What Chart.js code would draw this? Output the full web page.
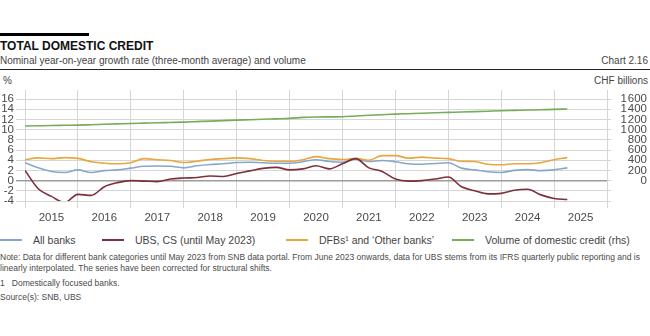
<!DOCTYPE html>
<html>
<head>
<meta charset="utf-8">
<script src="https://cdn.jsdelivr.net/npm/chart.js@4"></script>
<style>
  body { margin: 0; background: #fff; font-family: "Liberation Sans", Arial, sans-serif; color: #444; }
  #page { position: relative; width: 650px; height: 336px; overflow: hidden; background: #fff; }
  .abs { position: absolute; white-space: nowrap; }
  #title { left: 0; top: 39px; font-size: 12px; line-height: 14px; font-weight: bold; color: #111; }
  #subtitle { left: 0; top: 55px; font-size: 10px; line-height: 12px; }
  #chartno { right: 2px; top: 55px; font-size: 10px; line-height: 12px; }
  #rule { left: 0; top: 69px; width: 650px; height: 1px; background: #222; }
  #unitL { left: 3px; top: 75px; font-size: 10px; line-height: 12px; }
  #unitR { right: 2px; top: 75px; font-size: 10px; line-height: 12px; }
  #wrap { position: absolute; left: 0; top: 80px; width: 650px; height: 146px; }
  #legend { left: 0; top: 233px; width: 650px; height: 14px; font-size: 10.5px; line-height: 14px; }
  .item { position: absolute; top: 0; }
  .sw { position: absolute; top: 6px; width: 22px; height: 2px; }
  .lt { position: absolute; left: 33px; top: 0; white-space: nowrap; }
  .note { left: 0; font-size: 8.5px; line-height: 10px; color: #4a4a4a; }
</style>
</head>
<body>
<div id="page">
  <svg style="position:absolute;left:0;top:32px;z-index:5" width="90" height="5"><rect x="0" y="1" width="89" height="3" fill="#000"></rect></svg>
  <div class="abs" id="title">TOTAL DOMESTIC CREDIT</div>
  <div class="abs" id="subtitle">Nominal year-on-year growth rate (three-month average) and volume</div>
  <div class="abs" id="chartno">Chart 2.16</div>
  <div class="abs" id="rule"></div>
  <div class="abs" id="unitL">%</div>
  <div class="abs" id="unitR">CHF billions</div>
  <div id="wrap"><canvas id="chart" width="650" height="146"></canvas></div>
  <div class="abs" id="legend"></div>
  <div class="abs note" style="top:252px">Note: Data for different bank categories until May 2023 from SNB data portal. From June 2023 onwards, data for UBS stems from its IFRS quarterly public reporting and is</div>
  <div class="abs note" style="top:263px">linearly interpolated. The series have been corrected for structural shifts.</div>
  <div class="abs note" style="top:278px">1&nbsp;&nbsp;&nbsp;Domestically focused banks.</div>
  <div class="abs note" style="top:292px">Source(s): SNB, UBS</div>
</div>
<script>
// quarterly observations, Q1 2015 .. Q2 2025 (decimal years)
const quarters = Array.from({ length: 42 }, (_, i) => 2015 + i * 0.25);

const seriesNames = ["All banks", "UBS, CS (until May 2023)", "DFBs\u00b9 and \u2018Other banks\u2019", "Volume of domestic credit (rhs)"];
const seriesColors = ["#86a7cb", "#7d2f3b", "#e9a63e", "#76ad5a"];

// % growth, y-o-y
const allBanks = [
  3.5, 2.5, 1.8, 1.6,
  2.1, 1.6, 1.95, 2.1,
  2.45, 2.8, 2.85, 2.8,
  2.5, 2.9, 3.15, 3.3,
  3.55, 3.6, 3.5, 3.4,
  3.4, 3.7, 4.1, 3.75,
  3.6, 4.2, 3.75, 3.95,
  3.7, 3.3, 3.2, 3.35,
  3.5, 2.45, 2.1, 1.75,
  1.6, 2.0, 2.15, 1.95,
  2.1, 2.5
];
const ubsCs = [
  2.0, -1.6, -3.1, -4.3,
  -2.7, -2.9, -1.2, -0.4,
  0.0, -0.1, -0.2, 0.3,
  0.5, 0.6, 0.9, 0.8,
  1.4, 1.9, 2.4, 2.6,
  2.1, 2.3, 2.9, 2.3,
  3.3, 4.3, 2.5, 1.8,
  0.3, -0.1, 0.0, 0.3,
  0.7, -1.2, -2.0, -2.6,
  -2.5, -1.9, -1.7, -2.8,
  -3.5, -3.7
];
const dfbsOther = [
  4.1, 4.45, 4.3, 4.5,
  4.35, 3.7, 3.4, 3.3,
  3.5, 4.3, 4.1, 3.95,
  3.55, 3.8, 4.15, 4.3,
  4.45, 4.3, 3.95, 3.8,
  3.8, 4.1, 4.7, 4.3,
  4.15, 4.35, 4.0, 4.9,
  4.9, 4.4, 4.6, 4.4,
  4.3, 3.8, 3.75, 3.2,
  3.1, 3.3, 3.3, 3.5,
  4.1, 4.5
];
// CHF billions (rhs)
const volume = [
  1070, 1075, 1080, 1084,
  1088, 1096, 1104, 1112,
  1120, 1127, 1134, 1140,
  1147, 1157, 1167, 1176,
  1186, 1194, 1203, 1211,
  1220, 1240, 1248, 1250,
  1253, 1268, 1280, 1292,
  1304, 1312, 1320, 1329,
  1337, 1345, 1353, 1361,
  1369, 1376, 1383, 1390,
  1396, 1405
];

const leftTicks = [-4, -2, 0, 2, 4, 6, 8, 10, 12, 14, 16];
const years = [2015, 2016, 2017, 2018, 2019, 2020, 2021, 2022, 2023, 2024, 2025];

const legendLeft = [0, 102, 286, 452];

// html legend
const legendEl = document.getElementById("legend");
seriesNames.forEach((name, i) => {
  const item = document.createElement("div");
  item.className = "item";
  item.style.left = legendLeft[i] + "px";
  item.innerHTML = '<div class="sw" style="background:' + seriesColors[i] + '"></div><div class="lt">' + name + "</div>";
  legendEl.appendChild(item);
});

function pts(values) {
  return values.map((v, i) => ({ x: quarters[i], y: v }));
}

const tickFont = { family: "'Liberation Sans', Arial, sans-serif", size: 11.5 };
const tickColor = "#4a4a4a";
const gridColor = "#d6d6d6";

const ctx = document.getElementById("chart").getContext("2d");
new Chart(ctx, {
  type: "line",
  data: {
    datasets: [
      { label: seriesNames[3], data: pts(volume), yAxisID: "y1", borderColor: seriesColors[3], order: 4 },
      { label: seriesNames[0], data: pts(allBanks), yAxisID: "y", borderColor: seriesColors[0], order: 3 },
      { label: seriesNames[2], data: pts(dfbsOther), yAxisID: "y", borderColor: seriesColors[2], order: 2 },
      { label: seriesNames[1], data: pts(ubsCs), yAxisID: "y", borderColor: seriesColors[1], order: 1 },
    ],
  },
  options: {
    responsive: false,
    animation: false,
    layout: { padding: { top: 10, right: 3, bottom: 1, left: 0 } },
    elements: {
      point: { radius: 0 },
      line: { borderWidth: 1.6, cubicInterpolationMode: "monotone" },
    },
    plugins: { legend: { display: false }, tooltip: { enabled: false } },
    scales: {
      x: {
        type: "linear",
        position: "bottom",
        min: 2015,
        max: 2026,
        afterBuildTicks: (axis) => {
          axis.ticks = years.concat([2026]).map((y) => ({ value: y }));
        },
        afterFit: (axis) => { axis.height = 24; },
        grid: { color: gridColor, tickLength: 7 },
        border: { display: false },
        ticks: {
          font: tickFont,
          color: tickColor,
          padding: 3,
          labelOffset: 26.45,
          maxRotation: 0,
          autoSkip: false,
          callback: (v) => (years.includes(v) ? String(v) : ""),
        },
      },
      xTop: {
        type: "linear",
        position: "top",
        min: 2015,
        max: 2026,
        afterBuildTicks: (axis) => {
          axis.ticks = years.concat([2026]).map((y) => ({ value: y }));
        },
        afterFit: (axis) => { axis.height = 9; },
        grid: { color: gridColor, drawOnChartArea: false, tickLength: 9 },
        border: { display: false },
        ticks: { display: false },
      },
      y: {
        position: "left",
        min: -4,
        max: 16,
        afterBuildTicks: (axis) => {
          axis.ticks = leftTicks.map((v) => ({ value: v }));
        },
        afterFit: (axis) => { axis.width = 25; },
        grid: {
          tickLength: 9,
          color: (c) => (c.tick && c.tick.value === 0 ? "#9c9c9c" : gridColor),
          lineWidth: (c) => (c.tick && c.tick.value === 0 ? 1.4 : 1),
        },
        border: { display: false },
        ticks: { font: tickFont, color: tickColor, padding: 2, autoSkip: false },
      },
      y1: {
        position: "right",
        min: -400,
        max: 1600,
        afterBuildTicks: (axis) => {
          axis.ticks = leftTicks.map((v) => ({ value: v * 100 }));
        },
        afterFit: (axis) => { axis.width = 40; },
        grid: { drawOnChartArea: false, tickLength: 4, color: gridColor },
        border: { display: false },
        ticks: {
          font: tickFont,
          color: tickColor,
          padding: 4,
          crossAlign: "far",
          autoSkip: false,
          callback: (v) => {
            if (v < 0) return "";
            const s = String(v);
            return s.length > 3 ? s.slice(0, s.length - 3) + "\u200a" + s.slice(-3) : s;
          },
        },
      },
    },
  },
});
</script>
</body>
</html>
